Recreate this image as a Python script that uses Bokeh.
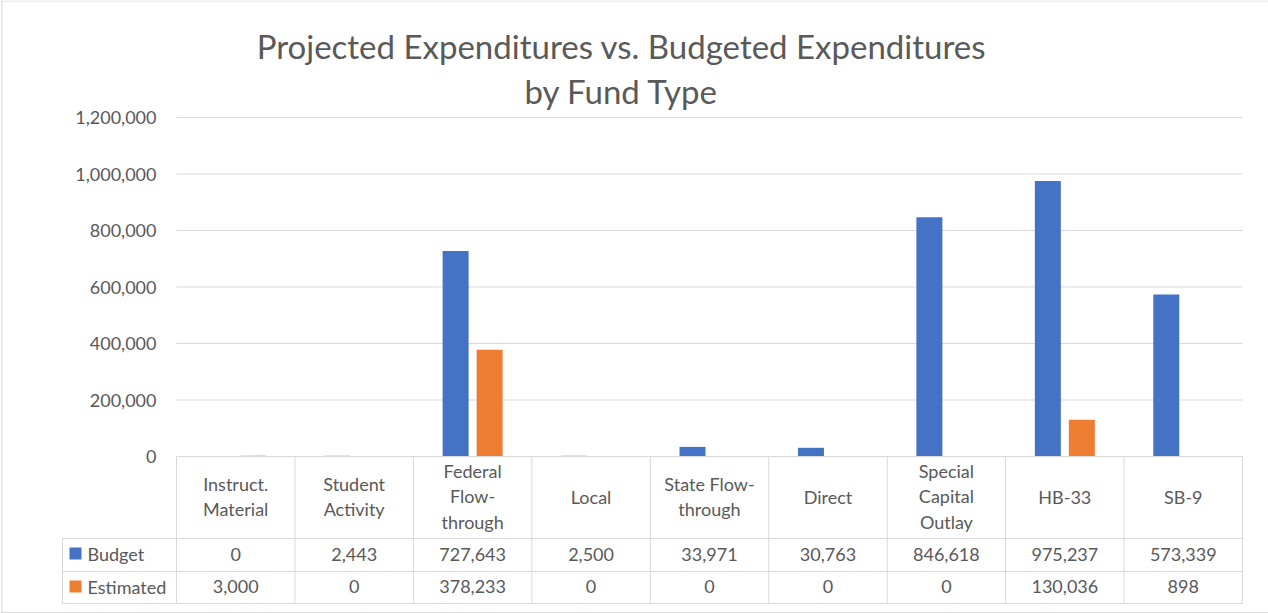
from bokeh.plotting import figure
from bokeh.models import Range1d, LinearAxis, FixedTicker, NumeralTickFormatter
from bokeh.core.properties import value
from bokeh.embed import file_html
from bokeh.resources import INLINE

# ---------------- data ----------------
categories = ["Instruct.\nMaterial", "Student\nActivity", "Federal\nFlow-\nthrough", "Local",
              "State Flow-\nthrough", "Direct", "Special\nCapital\nOutlay", "HB-33", "SB-9"]
budget = [0, 2443, 727643, 2500, 33971, 30763, 846618, 975237, 573339]
estimated = [3000, 0, 378233, 0, 0, 0, 0, 130036, 898]
series_names = ["Budget", "Estimated"]
y_ticks = [0, 200000, 400000, 600000, 800000, 1000000, 1200000]
title_lines = ["Projected Expenditures vs. Budgeted Expenditures", "by Fund Type"]

# ---------------- layout / style ----------------
W, H = 1268, 613
PLOT_L, PLOT_R = 176, 1242
PLOT_T, PLOT_B = 117, 456
n = len(categories)
col_px = (PLOT_R - PLOT_L) / n
upp = y_ticks[-1] / (PLOT_B - PLOT_T)


def X(px):
    return (px - PLOT_L) / col_px


def Y(py):
    return (PLOT_B - py) * upp


BLUE = "#4472C4"
ORANGE = "#ED7D31"
TEXT = "#595959"
LINE = "#D9D9D9"
FONT = "Lato"

p = figure(width=W, height=H, output_backend="svg", toolbar_location=None,
           x_range=Range1d(X(0), X(W)), y_range=Range1d(Y(H), Y(0)),
           x_axis_location=None, y_axis_location=None, title=None,
           min_border=0, min_border_left=0, min_border_right=0,
           min_border_top=0, min_border_bottom=0)
p.outline_line_color = None
p.background_fill_color = "white"
p.border_fill_color = "white"
p.grid.visible = False

# chart border
p.segment(x0=[X(1.5), X(0)], y0=[Y(0), Y(0.5)], x1=[X(1.5), X(W)], y1=[Y(612), Y(0.5)],
          line_color=LINE, line_width=1)
p.segment(x0=[X(0)], y0=[Y(612)], x1=[X(W)], y1=[Y(612)], line_color=LINE, line_width=1)

# gridlines
p.segment(x0=[0] * len(y_ticks), x1=[n] * len(y_ticks), y0=y_ticks, y1=y_ticks,
          line_color=LINE, line_width=1)

# y axis
yaxis = LinearAxis(fixed_location=0, ticker=FixedTicker(ticks=y_ticks),
                   formatter=NumeralTickFormatter(format="0,0"))
yaxis.axis_line_color = None
yaxis.major_tick_line_color = None
yaxis.minor_tick_line_color = None
yaxis.major_tick_in = 0
yaxis.major_tick_out = 0
yaxis.major_label_standoff = 20
yaxis.major_label_text_font = FONT
yaxis.major_label_text_font_size = "18px"
yaxis.major_label_text_color = TEXT
p.add_layout(yaxis, "left")

# bars
centers = [i + 0.5 for i in range(n)]
bar_w = 26 / col_px
off = 17 / col_px
p.vbar(x=[c - off for c in centers], top=budget, bottom=0, width=bar_w,
       fill_color=BLUE, line_color=None)
p.vbar(x=[c + off for c in centers], top=estimated, bottom=0, width=bar_w,
       fill_color=ORANGE, line_color=None)

# title
p.text(x=[X(621), X(621)], y=[Y(45), Y(90)], text=title_lines,
       text_font=value(FONT), text_font_size="33px", text_color=TEXT,
       text_align="center", text_baseline="middle")

# data table
ROW_H0, ROW_H1, ROW_B1, ROW_E1 = 456, 538, 571, 603
LEG_L = 62
p.segment(x0=list(range(n + 1)), x1=list(range(n + 1)),
          y0=[Y(ROW_H0)] * (n + 1), y1=[Y(ROW_E1)] * (n + 1),
          line_color=LINE, line_width=1)
p.segment(x0=[X(LEG_L)] * 3 + [0], x1=[n] * 3 + [n],
          y0=[Y(ROW_H1), Y(ROW_B1), Y(ROW_E1), Y(ROW_H0)],
          y1=[Y(ROW_H1), Y(ROW_B1), Y(ROW_E1), Y(ROW_H0)],
          line_color=LINE, line_width=1)
p.segment(x0=[X(LEG_L)], x1=[X(LEG_L)], y0=[Y(ROW_H1)], y1=[Y(ROW_E1)],
          line_color=LINE, line_width=1)

p.text(x=centers, y=[Y((ROW_H0 + ROW_H1) / 2 - 1)] * n, text=categories,
       text_font=value(FONT), text_font_size="18px", text_color=TEXT,
       text_align="center", text_baseline="middle", text_line_height=1.18)

yb = Y((ROW_H1 + ROW_B1) / 2 - 1)
ye = Y((ROW_B1 + ROW_E1) / 2 - 1)
p.text(x=centers, y=[yb] * n, text=[f"{v:,}" for v in budget],
       text_font=value(FONT), text_font_size="18px", text_color=TEXT,
       text_align="center", text_baseline="middle")
p.text(x=centers, y=[ye] * n, text=[f"{v:,}" for v in estimated],
       text_font=value(FONT), text_font_size="18px", text_color=TEXT,
       text_align="center", text_baseline="middle")

# legend keys in table
p.scatter(x=[X(75), X(75)], y=[Y(553), Y(586)], marker="square", size=12,
          fill_color=[BLUE, ORANGE], line_color=None)
p.text(x=[X(87), X(87)], y=[yb, ye], text=series_names,
       text_font=value(FONT), text_font_size="18px", text_color=TEXT,
       text_align="left", text_baseline="middle")

open("out.html", "w").write(file_html(p, INLINE))
